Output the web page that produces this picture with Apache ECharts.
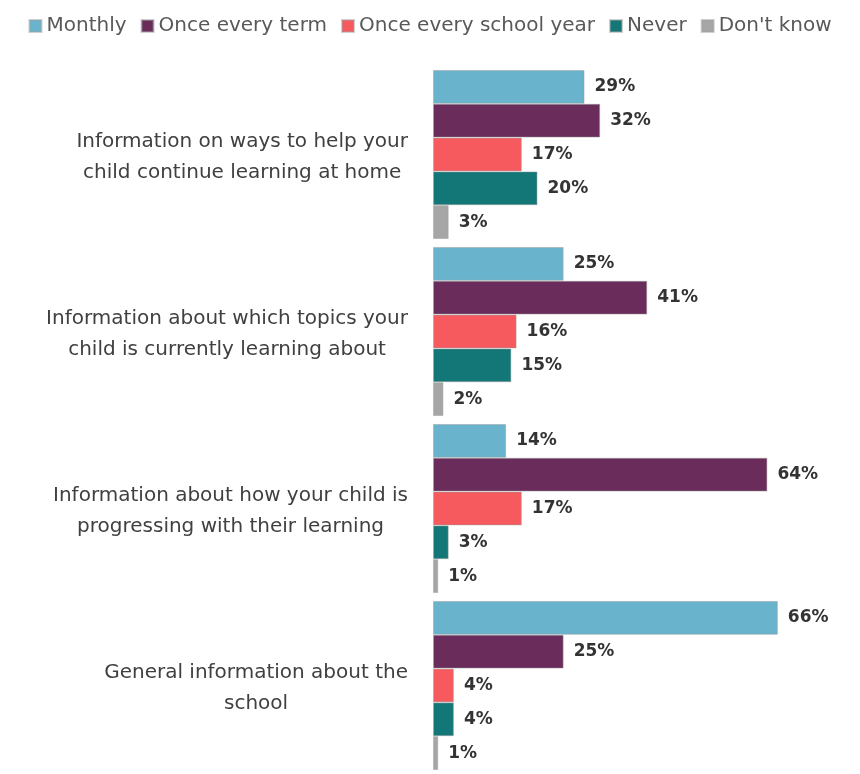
<!DOCTYPE html>
<html>
<head>
<meta charset="utf-8">
<script src="https://cdn.jsdelivr.net/npm/echarts@6/dist/echarts.min.js"></script>
<style>
  html, body { margin: 0; padding: 0; background: #fff; }
  #chart { width: 860px; height: 774px; }
</style>
</head>
<body>
<div id="chart"></div>
<script>
// Survey: how often parents would like to receive each kind of information
const categories = [
  'Information on ways to help your\nchild continue learning at home',
  'Information about which topics your\nchild is currently learning about',
  'Information about how your child is\nprogressing with their learning',
  'General information about the\nschool'
];
const seriesNames = ['Monthly', 'Once every term', 'Once every school year', 'Never', "Don't know"];
const monthly    = [29, 25, 14, 66];
const everyTerm  = [32, 41, 64, 25];
const schoolYear = [17, 16, 17, 4];
const never      = [20, 15, 3, 4];
const dontKnow   = [3, 2, 1, 1];
const colors = ['#69b3cc', '#6a2d5b', '#f65a5f', '#147777', '#a6a6a6'];

const values = [monthly, everyTerm, schoolYear, never, dontKnow];
const FONT = 'DejaVu Sans';

const chart = echarts.init(document.getElementById('chart'));
chart.setOption({
  animation: false,
  color: colors,
  legend: {
    top: 11,
    left: 'center',
    itemWidth: 12,
    itemHeight: 12,
    itemGap: 14,
    icon: 'rect',
    textStyle: { fontFamily: FONT, fontSize: 20, color: '#595959' },
    data: seriesNames
  },
  grid: { left: 433, top: 66, width: 418, height: 712, containLabel: false },
  xAxis: {
    type: 'value', min: 0, max: 80, show: false
  },
  yAxis: {
    type: 'category',
    data: categories,
    inverse: true,
    axisLine: { show: false },
    axisTick: { show: false },
    axisLabel: {
      margin: 25,
      align: 'right',
      padding: [6, 0, 0, 0],
      formatter: function (v) {
        // each line centred within the label block
        return v.split('\n').map(function (l) { return '{c|' + l + '}'; }).join('\n');
      },
      rich: {
        c: {
          align: 'center',
          fontFamily: FONT,
          fontSize: 20,
          lineHeight: 31,
          color: '#404040'
        }
      }
    }
  },
  series: seriesNames.map((name, i) => ({
    name: name,
    type: 'bar',
    data: values[i],
    barGap: '0%',
    barCategoryGap: '4.5%',
    itemStyle: { color: colors[i], borderColor: 'rgba(160,160,160,0.5)', borderWidth: 1 },
    label: {
      show: true,
      position: 'right',
      distance: 10,
      formatter: '{c}%',
      fontFamily: FONT,
      fontWeight: 'bold',
      fontSize: 17,
      color: '#333'
    }
  }))
});
</script>
</body>
</html>
